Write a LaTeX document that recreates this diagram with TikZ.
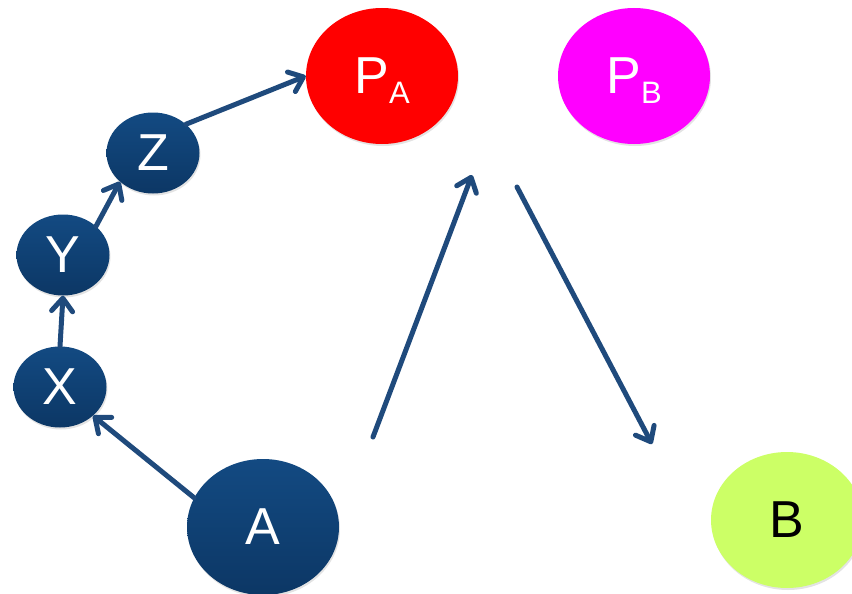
\documentclass[tikz,border=0pt]{standalone}
\usepackage{fontspec}
\setmainfont{Liberation Sans}
\usetikzlibrary{shapes.geometric,arrows.meta,shadows}
\definecolor{arrowblue}{HTML}{1F4A7C}
\definecolor{navytop}{HTML}{134A82}
\definecolor{navybot}{HTML}{0C3765}
\definecolor{pared}{HTML}{FF0000}
\definecolor{pbmag}{HTML}{FF00FF}
\definecolor{bgreen}{HTML}{CCFF66}
\newcommand\sublbl[2]{#1\smash{\raisebox{-10pt}{\fontsize{31}{31}\selectfont #2}}}
\begin{document}
\begin{tikzpicture}[x=1pt,y=-1pt,
  bubble/.style={ellipse, inner sep=0pt, draw=none, drop shadow={opacity=0.22,shadow xshift=1pt,shadow yshift=-2pt}},
  navy/.style={bubble, top color=navytop, bottom color=navybot, text=white},
  big/.style={minimum width=152pt, minimum height=136pt},
  small/.style={minimum width=93pt, minimum height=81pt},
  lbl/.style={font=\fontsize{52}{52}\selectfont},
  conn/.style={draw=arrowblue, line width=5pt, line cap=round, -{Straight Barb[length=13pt,width=21pt,round]}}
]
\useasboundingbox (0,0) rectangle (852,594);
\node[navy, big, lbl] (A) at (263,527) {A};
\node[navy, small, lbl] (X) at (60,387) {X};
\node[navy, small, lbl] (Y) at (63,255) {Y};
\node[navy, small, lbl] (Z) at (153,153) {Z};
\node[bubble, big, fill=pared, text=white, lbl] (PA) at (382,76) {\sublbl{P}{A}};
\node[bubble, big, fill=pbmag, text=white, lbl] (PB) at (634,76) {\sublbl{P}{B}};
\node[bubble, big, fill=bgreen, text=black, lbl] (B) at (787,520) {B};
\coordinate (f1) at (373,437);
\coordinate (f2) at (472,175);
\coordinate (f3) at (517,187);
\coordinate (f4) at (652,444);
\draw[conn] (A.157) -- (X.south east);
\draw[conn] (X.north) -- (Y.south);
\draw[conn] (Y.north east) -- (Z.south west);
\draw[conn] (Z.north east) -- (PA.west);
\draw[conn] (f1) -- (f2);
\draw[conn] (f3) -- (f4);
\end{tikzpicture}
\end{document}
